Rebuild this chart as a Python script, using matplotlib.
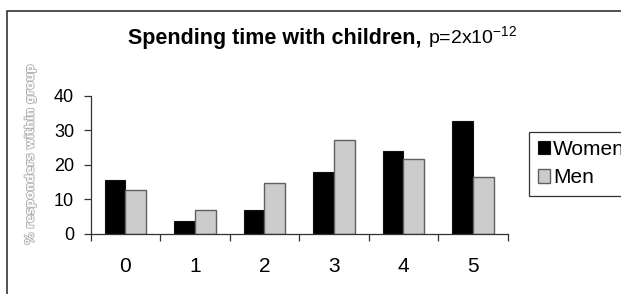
import numpy as np
import matplotlib.pyplot as plt
from matplotlib.patches import Rectangle
import matplotlib.patheffects as pe

categories = ['0', '1', '2', '3', '4', '5']
women = [15.6, 3.9, 7.0, 18.0, 23.9, 32.7]
men = [12.7, 6.9, 14.7, 27.1, 21.6, 16.4]
yticks = [0, 10, 20, 30, 40]

plt.rcParams['font.family'] = ['Liberation Sans', 'DejaVu Sans']
plt.rcParams['mathtext.fontset'] = 'custom'
plt.rcParams['mathtext.rm'] = 'Liberation Sans'

W, H = 621, 294
fig = plt.figure(figsize=(W/100, H/100), dpi=100)

# outer frame (cut off at right and bottom)
fig.patches.append(Rectangle((6.5/W, -0.1), 1.2, (H-11)/H + 0.1, transform=fig.transFigure,
                             fill=False, edgecolor='#222222', linewidth=1.1))

ax = fig.add_axes([90.7/W, 60/H, 417/W, 138.3/H])
x = np.arange(len(categories))
w = 0.3
ax.bar(x - w/2, women, w, color='black', edgecolor='#111111', linewidth=0.8, label='Women')
ax.bar(x + w/2, men, w, color='#cccccc', edgecolor='#606060', linewidth=1.0, label='Men')

ax.set_xlim(-0.5, len(categories) - 0.5)
ax.set_ylim(0, 40)
ax.set_yticks(yticks)
ax.set_yticklabels([str(t) for t in yticks], fontsize=13)
ax.set_xticks(x)
ax.set_xticklabels(categories, fontsize=15)
ax.set_xticks(np.arange(-0.5, len(categories)), minor=True)
ax.tick_params(axis='x', which='major', length=0, pad=16.5)
ax.tick_params(axis='x', which='minor', length=5, width=0.9, direction='out', color='#333333')
ax.tick_params(axis='y', length=5, width=0.9, direction='out', color='#333333', pad=7)
for s in ['top', 'right']:
    ax.spines[s].set_visible(False)
for s in ['left', 'bottom']:
    ax.spines[s].set_color('#333333')
    ax.spines[s].set_linewidth(0.9)

fig.text(30/W, 1 - 155/H, '% responders within group', rotation=90, color='white',
         family='DejaVu Sans', fontsize=8.5, fontweight='bold', ha='center', va='center',
         path_effects=[pe.withStroke(linewidth=1.3, foreground='#b0b0b0')])

fig.text(128/W, 1 - 44.3/H, 'Spending time with children,', fontsize=15.5, fontweight='bold',
         ha='left', va='baseline')
fig.text(427.7/W, 1 - 44.3/H, r'p=2x10$^{\mathregular{-12}}$', fontsize=14, ha='left', va='baseline')

leg = fig.legend(loc='upper left', bbox_to_anchor=(529.3/W, 1 - 131.7/H), fontsize=15,
                 frameon=True, fancybox=False, edgecolor='black', handlelength=0.6,
                 handleheight=0.6, handletextpad=0.15, borderpad=0.4, labelspacing=0.45,
                 borderaxespad=0)
leg.get_frame().set_linewidth(0.9)

fig.savefig('out.png', dpi=100)
